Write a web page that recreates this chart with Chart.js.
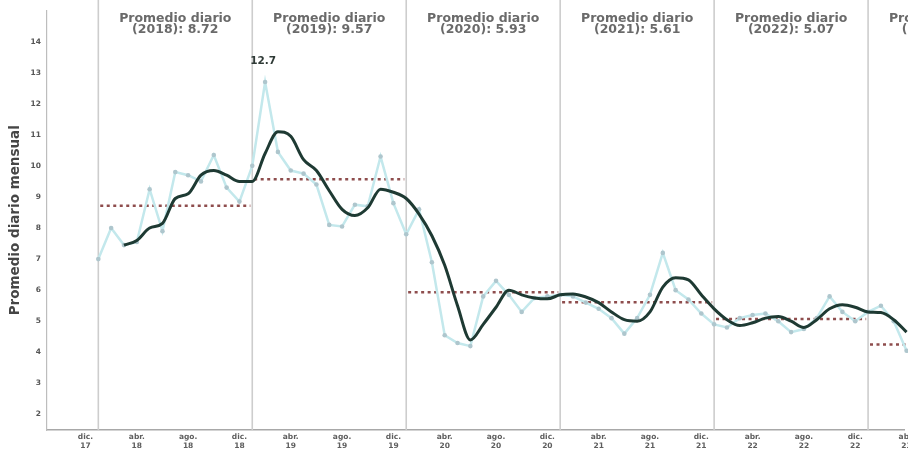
<!DOCTYPE html>
<html><head><meta charset="utf-8">
<script src="https://cdn.jsdelivr.net/npm/chart.js@4"></script>
<style>html,body{margin:0;padding:0;background:#fff;}#wrap{width:908px;height:455px;position:relative;}</style>
</head><body><div id="wrap"><canvas id="c"></canvas></div>
<script>
// Monthly values starting at ene. 2018 (index 0)
const rawMonthly = [
  7.0, 8.0, 7.45, 7.55, 9.25, 7.9, 9.8, 9.7, 9.5, 10.35, 9.3, 8.85,
  10.0, 12.7, 10.45, 9.85, 9.75, 9.4, 8.1, 8.05, 8.75, 8.7, 10.3, 8.8,
  7.8, 8.6, 6.9, 4.55, 4.3, 4.2, 5.8, 6.3, 5.85, 5.3, 5.75, 5.8,
  5.85, 5.8, 5.6, 5.4, 5.1, 4.6, 5.1, 5.85, 7.2, 6.0, 5.7, 5.25,
  4.9, 4.8, 5.1, 5.2, 5.25, 5.0, 4.65, 4.75, 5.1, 5.8, 5.3, 5.0,
  5.3, 5.5, 5.0, 4.05
];
const smoothMonthly = [
  null, null, 7.45, 7.6, 8.0, 8.15, 8.95, 9.1, 9.7, 9.85, 9.7, 9.5,
  9.5, 10.4, 11.1, 10.95, 10.2, 9.85, 9.2, 8.6, 8.4, 8.65, 9.25, 9.15,
  8.95, 8.45, 7.75, 6.8, 5.5, 4.4, 4.9, 5.45, 6.0, 5.85, 5.75, 5.72,
  5.85, 5.88, 5.78, 5.6, 5.3, 5.05, 5.0, 5.3, 6.1, 6.4, 6.33, 5.85,
  5.4, 5.05, 4.86, 4.95, 5.1, 5.15, 5.0, 4.8, 5.05, 5.4, 5.53, 5.45,
  5.3, 5.28, 5.05, 4.65
];
const yearLabels = ['2018', '2019', '2020', '2021', '2022', '2023'];
const yearAverages = [8.72, 9.57, 5.93, 5.61, 5.07, 4.25];
const xTickValues = [-1, 3, 7, 11, 15, 19, 23, 27, 31, 35, 39, 43, 47, 51, 55, 59, 63];
const xTickLabels = [
  ['dic.', '17'], ['abr.', '18'], ['ago.', '18'], ['dic.', '18'],
  ['abr.', '19'], ['ago.', '19'], ['dic.', '19'],
  ['abr.', '20'], ['ago.', '20'], ['dic.', '20'],
  ['abr.', '21'], ['ago.', '21'], ['dic.', '21'],
  ['abr.', '22'], ['ago.', '22'], ['dic.', '22'],
  ['abr.', '23']
];
const yTickValues = [2, 3, 4, 5, 6, 7, 8, 9, 10, 11, 12, 13, 14];
const peakIndex = 13;

const rawPoints = rawMonthly.map((v, i) => ({x: i, y: v}));
const smoothPoints = smoothMonthly.map((v, i) => ({x: i, y: v}));
const avgDatasets = yearAverages.map((v, k) => ({
  type: 'line',
  data: [{x: k * 12 + 0.15, y: v}, {x: k * 12 + 11.85, y: v}],
  borderColor: '#8e4d4d',
  borderWidth: 2.5,
  borderDash: [3, 3.5],
  pointRadius: 0,
  clip: false,
  order: 3
}));

const overlay = {
  id: 'overlay',
  beforeDatasetsDraw(chart) {
    const {ctx, chartArea, scales: {x}} = chart;
    ctx.save();
    ctx.strokeStyle = '#cdcdcd';
    ctx.lineWidth = 1.6;
    yearLabels.forEach((y, k) => {
      const px = x.getPixelForValue(k * 12);
      ctx.beginPath();
      ctx.moveTo(px, 0);
      ctx.lineTo(px, chartArea.bottom);
      ctx.stroke();
    });
    ctx.restore();
  },
  afterDatasetsDraw(chart) {
    const {ctx, scales: {x, y}} = chart;
    ctx.save();
    ctx.textAlign = 'center';
    ctx.textBaseline = 'middle';
    ctx.fillStyle = '#6a6a6a';
    ctx.font = 'bold 12.5px "DejaVu Sans"';
    yearLabels.forEach((yl, k) => {
      const cx = x.getPixelForValue(k * 12 + 6);
      ctx.fillText('Promedio diario', cx, 19);
      ctx.fillText('(' + yl + '): ' + yearAverages[k].toFixed(2), cx, 30);
    });
    ctx.fillStyle = '#2f3a36';
    ctx.font = 'bold 10.5px "DejaVu Sans"';
    const px = x.getPixelForValue(peakIndex);
    const py = y.getPixelForValue(rawMonthly[peakIndex]);
    ctx.fillText(rawMonthly[peakIndex].toFixed(1), px - 2, py - 21);
    ctx.restore();
  }
};

new Chart(document.getElementById('c'), {
  type: 'line',
  data: {
    datasets: [
      {
        data: smoothPoints,
        borderColor: '#1e3a33',
        borderWidth: 3,
        pointRadius: 0,
        tension: 0.4,
        cubicInterpolationMode: 'monotone',
        spanGaps: false,
        clip: false,
        order: 1
      },
      {
        data: rawPoints,
        borderColor: '#c3e8ec',
        borderWidth: 2.5,
        pointRadius: 2.3,
        pointBackgroundColor: '#aec6cd',
        pointBorderWidth: 0,
        tension: 0,
        clip: false,
        order: 2
      },
      ...avgDatasets
    ]
  },
  options: {
    responsive: true,
    maintainAspectRatio: false,
    animation: false,
    layout: {padding: {top: 7, right: 0, left: 0, bottom: 0}},
    plugins: {legend: {display: false}, tooltip: {enabled: false}},
    scales: {
      x: {
        type: 'linear',
        min: -4.0,
        max: 62.8,
        afterBuildTicks: s => { s.ticks = xTickValues.map(v => ({value: v})); },
        afterFit: s => { s.height = 25; s.paddingRight = 0; s.paddingLeft = 0; },
        grid: {display: false, drawTicks: false},
        border: {display: true, color: '#a8a8a8', width: 1.5},
        ticks: {
          autoSkip: false,
          maxRotation: 0,
          padding: 3,
          color: '#5e5e5e',
          font: {size: 7.5, weight: 'bold', family: '"DejaVu Sans"', lineHeight: 1.15},
          callback: v => xTickLabels[xTickValues.indexOf(v)]
        }
      },
      y: {
        min: 1.5,
        max: 15,
        afterBuildTicks: s => { s.ticks = yTickValues.map(v => ({value: v})); },
        afterFit: s => { s.width = 47; },
        grid: {display: false, drawTicks: false},
        border: {display: true, color: '#bdbdbd', width: 1.2},
        ticks: {
          padding: 6,
          color: '#555555',
          font: {size: 7.5, weight: 'bold', family: '"DejaVu Sans"'}
        },
        title: {
          display: true,
          text: 'Promedio diario mensual',
          color: '#454545',
          font: {size: 13.5, weight: 'bold', family: '"DejaVu Sans"'},
          padding: {top: 7, bottom: 0}
        }
      }
    }
  },
  plugins: [overlay]
});
</script>
</body></html>
